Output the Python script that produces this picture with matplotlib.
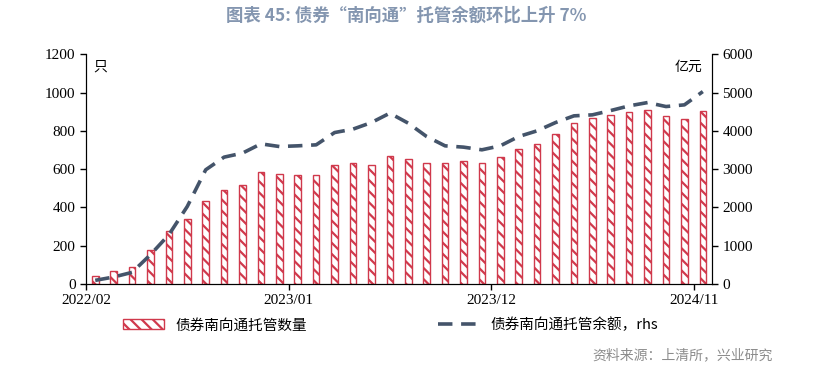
import matplotlib
matplotlib.use('Agg')
import matplotlib.pyplot as plt
from matplotlib.patches import Patch
from matplotlib.lines import Line2D
import numpy as np

plt.rcParams['font.family'] = ['Liberation Serif', 'Noto Sans CJK SC', 'DejaVu Sans']
plt.rcParams['hatch.linewidth'] = 1.6

# 月份 2022/02 - 2024/11
months = []
for y in (2022, 2023, 2024):
    for m in range(1, 13):
        if (y == 2022 and m < 2) or (y == 2024 and m > 11):
            continue
        months.append(f"{y}/{m:02d}")

# 托管数量（只）
counts = [43, 66, 87, 177, 275, 339, 436, 490, 516, 586, 575, 570, 570, 624, 634, 624, 668,
          652, 634, 634, 640, 634, 662, 706, 732, 781, 840, 866, 881, 897, 909, 876, 861, 904]
# 托管余额（亿元）
balance = [95, 182, 303, 765, 1286, 2025, 2982, 3313, 3418, 3660, 3590, 3608, 3634, 3955, 4044, 4216, 4461,
           4200, 3851, 3608, 3574, 3504, 3608, 3851, 4000, 4216, 4391, 4417, 4530, 4652, 4738, 4634, 4678, 5025]

tick_idx = [0, 11, 22, 33]

red = '#d0394c'
line_color = '#44546a'

fig = plt.figure(figsize=(8.13, 3.68), dpi=100)
ax = fig.add_axes([0.1058, 0.2283, 0.77, 0.6243])
ax2 = ax.twinx()

x = np.arange(len(months))
ax.bar(x, counts, width=0.36, color='white', edgecolor=red, hatch='\\\\\\', linewidth=1.0, zorder=2)
ax2.plot(x, balance, color=line_color, linewidth=2.6, dashes=(4, 2.4), zorder=3)

ax.set_xlim(-0.5, len(months) - 0.5)
ax.set_ylim(0, 1200)
ax2.set_ylim(0, 6000)
ax.set_yticks(range(0, 1201, 200))
ax2.set_yticks(range(0, 6001, 1000))
ax.set_xticks([i - 0.5 for i in tick_idx])
ax.set_xticklabels([months[i] for i in tick_idx])

for a in (ax, ax2):
    a.spines['top'].set_visible(False)
    a.tick_params(labelsize=11, length=4, width=1, direction='out')
ax.tick_params(axis='x', pad=3)

ax.text(0.012, 0.975, '只', transform=ax.transAxes, fontsize=10,
        family=['Noto Sans CJK SC'], va='top', ha='left')
ax2.text(0.985, 0.975, '亿元', transform=ax.transAxes, fontsize=10,
         family=['Noto Sans CJK SC'], va='top', ha='right')

fig.text(0.5, 0.958, '图表 45: 债券“南向通”托管余额环比上升 7%', ha='center', va='center',
         fontsize=12.5, fontweight='bold', color='#8496b0', family=['Noto Sans CJK SC'])

handles = [Patch(facecolor='white', edgecolor=red, hatch='\\\\\\', linewidth=1.0),
           Line2D([0], [0], color=line_color, linewidth=2.6, dashes=(4, 2.4))]
labels = ['债券南向通托管数量', '债券南向通托管余额，rhs']
fig.legend(handles, labels, loc='center left', bbox_to_anchor=(0.151, 0.117), ncol=2, frameon=False,
           prop={'family': ['Noto Sans CJK SC', 'DejaVu Sans'], 'size': 10.5},
           columnspacing=9.0, handlelength=2.8, handletextpad=0.8, borderpad=0, borderaxespad=0)

fig.text(0.95, 0.035, '资料来源：上清所，兴业研究', ha='right', va='center', fontsize=10,
         color='#8c8c8c', family=['Noto Sans CJK SC'])

fig.savefig('out.png', dpi=100)
